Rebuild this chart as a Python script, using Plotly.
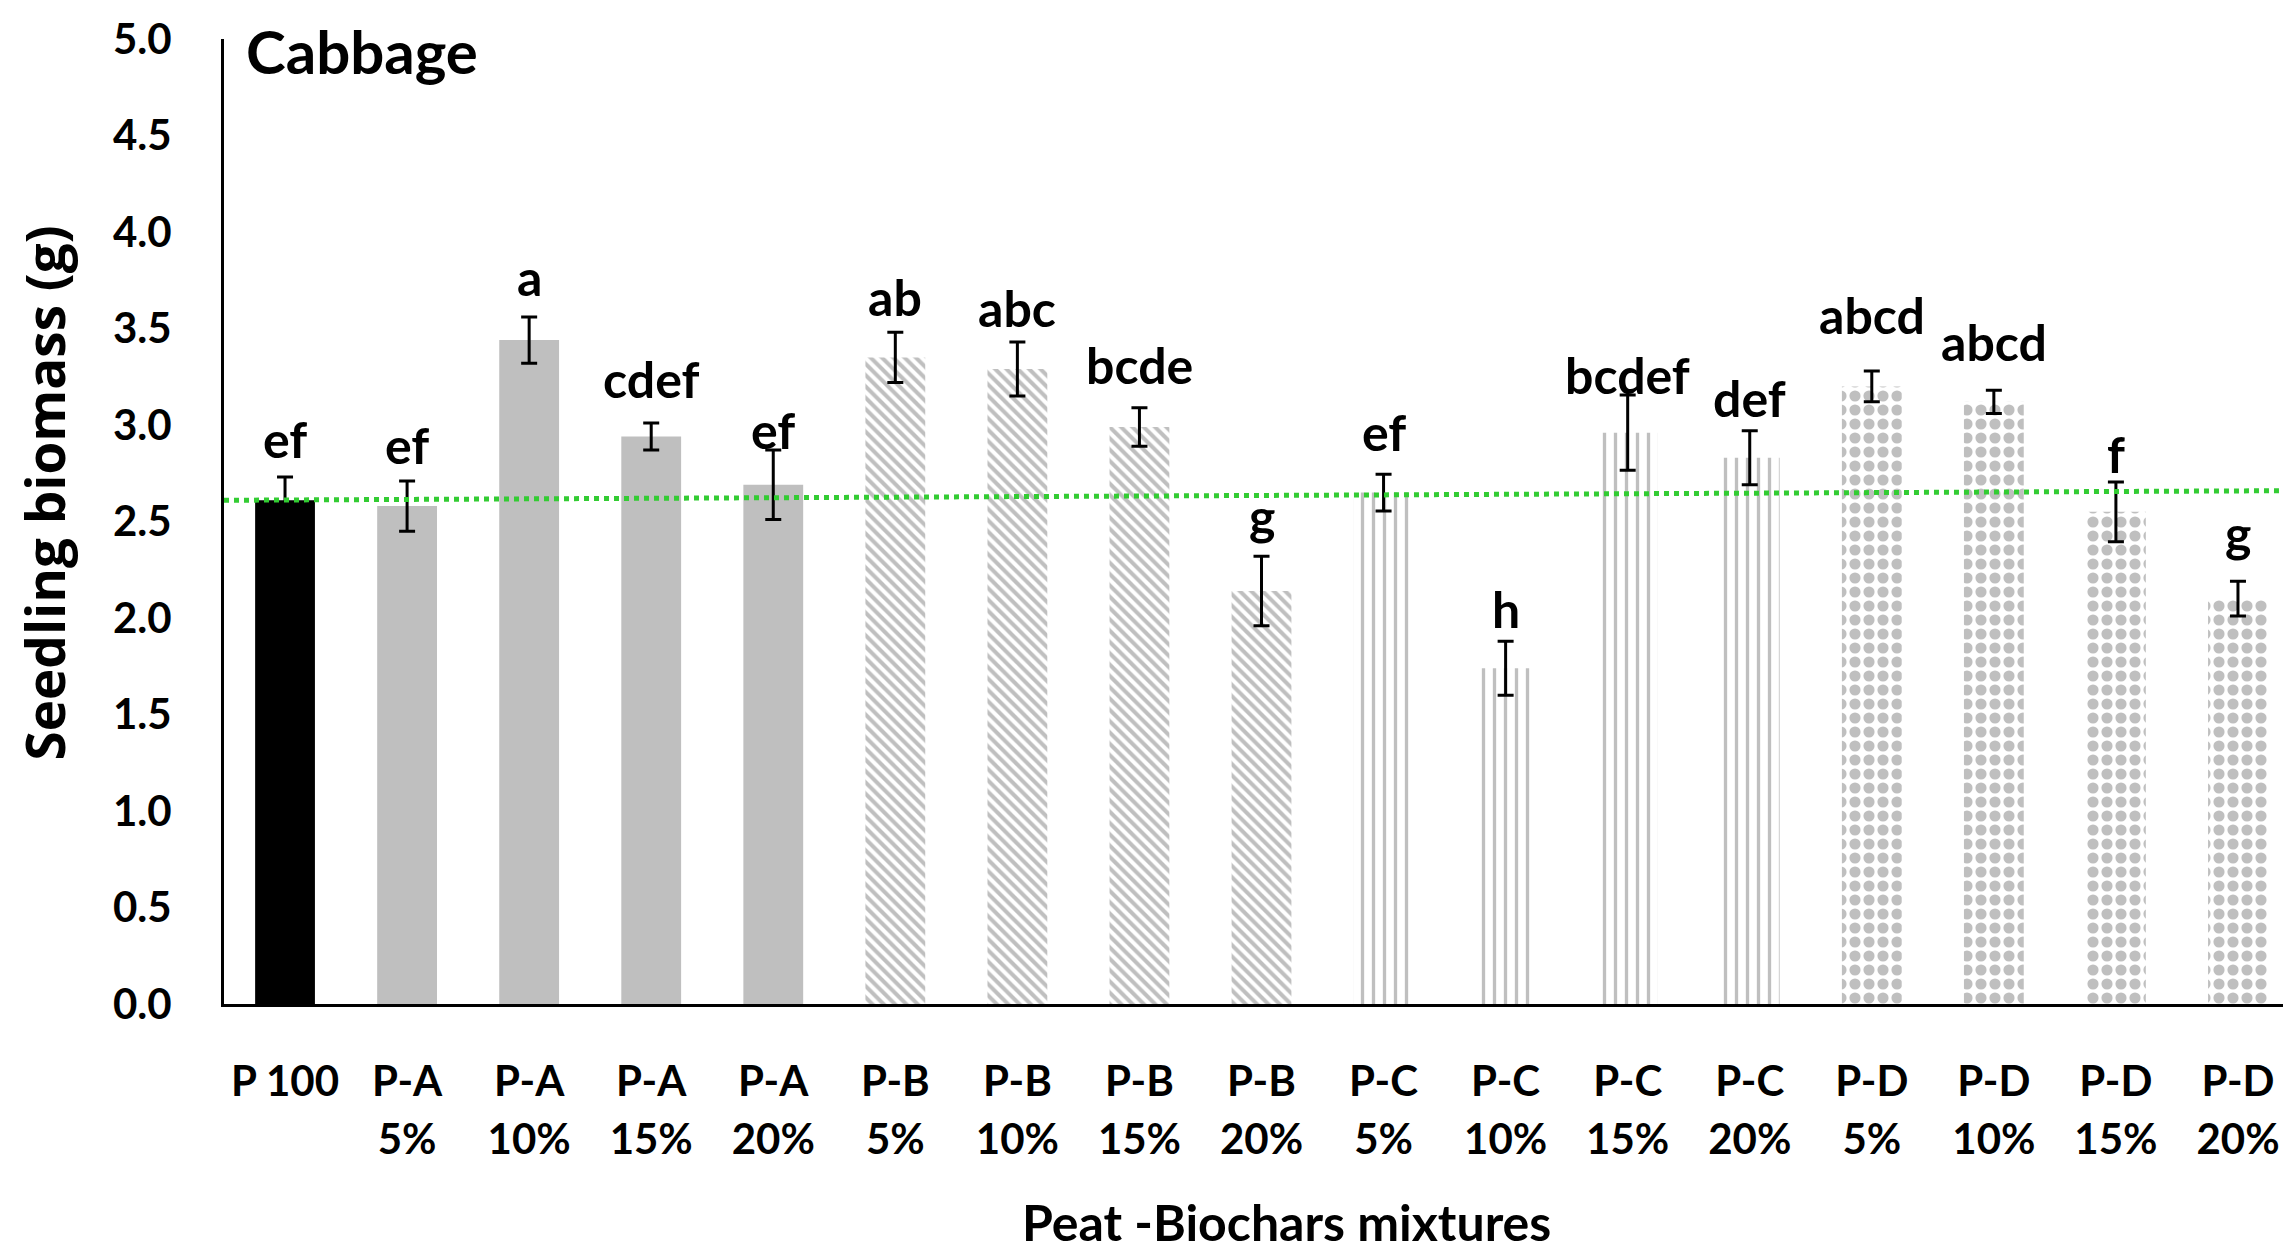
import plotly.graph_objects as go

# ---------------- data ----------------
categories = ["P 100", "P-A 5%", "P-A 10%", "P-A 15%", "P-A 20%",
              "P-B 5%", "P-B 10%", "P-B 15%", "P-B 20%",
              "P-C 5%", "P-C 10%", "P-C 15%", "P-C 20%",
              "P-D 5%", "P-D 10%", "P-D 15%", "P-D 20%"]
tick_line1 = ["P 100", "P-A", "P-A", "P-A", "P-A",
              "P-B", "P-B", "P-B", "P-B",
              "P-C", "P-C", "P-C", "P-C",
              "P-D", "P-D", "P-D", "P-D"]
tick_line2 = ["", "5%", "10%", "15%", "20%",
              "5%", "10%", "15%", "20%",
              "5%", "10%", "15%", "20%",
              "5%", "10%", "15%", "20%"]
groups = ["P", "A", "A", "A", "A", "B", "B", "B", "B",
          "C", "C", "C", "C", "D", "D", "D", "D"]
biomass = [2.61, 2.58, 3.44, 2.94, 2.69,
           3.35, 3.29, 2.99, 2.14,
           2.65, 1.74, 2.96, 2.83,
           3.20, 3.12, 2.55, 2.10]
std_err = [0.12, 0.13, 0.12, 0.07, 0.18,
           0.13, 0.14, 0.10, 0.18,
           0.095, 0.14, 0.195, 0.14,
           0.08, 0.06, 0.155, 0.09]
letters = ["ef", "ef", "a", "cdef", "ef",
           "ab", "abc", "bcde", "g",
           "ef", "h", "bcdef", "def",
           "abcd", "abcd", "f", "g"]
letter_base = [2.82, 2.79, 3.66, 3.13, 2.865,
               3.555, 3.50, 3.20, 2.42,
               2.855, 1.94, 3.15, 3.03,
               3.46, 3.32, 2.74, 2.33]
ref_line = [2.61, 2.66]
y_ticks = [0.0, 0.5, 1.0, 1.5, 2.0, 2.5, 3.0, 3.5, 4.0, 4.5, 5.0]

# ---------------- styles ----------------
FONT = "Lato"
GRAY = "#BFBFBF"
group_style = {
    "P": dict(color="#000000", pattern=dict(shape="")),
    "A": dict(color=GRAY, pattern=dict(shape="")),
    "B": dict(color="#FFFFFF", pattern=dict(shape="\\", fgcolor=GRAY, bgcolor="#FFFFFF",
                                            size=8, solidity=0.5, fillmode="replace")),
    "C": dict(color="#FFFFFF", pattern=dict(shape="|", fgcolor=GRAY, bgcolor="#FFFFFF",
                                            size=11, solidity=0.3, fillmode="replace")),
    "D": dict(color="#FFFFFF", pattern=dict(shape=".", fgcolor=GRAY, bgcolor="#FFFFFF",
                                            size=14, solidity=0.5, fillmode="replace")),
}

fig = go.Figure()
for g in ["P", "A", "B", "C", "D"]:
    idx = [i for i, gg in enumerate(groups) if gg == g]
    st = group_style[g]
    fig.add_trace(go.Bar(
        x=[categories[i] for i in idx],
        y=[biomass[i] for i in idx],
        width=0.49,
        marker=dict(color=st["color"], pattern=st["pattern"], line=dict(width=0)),
        error_y=dict(type="data", array=[std_err[i] for i in idx], visible=True,
                     color="#000000", thickness=3, width=8),
        showlegend=False, hoverinfo="x+y",
    ))

# invisible trace carrying the second line of tick labels
fig.add_trace(go.Scatter(x=categories, y=biomass, xaxis="x2", mode="markers",
                         marker=dict(opacity=0), showlegend=False, hoverinfo="skip"))

# reference line (control mean)
fig.add_shape(type="line", xref="paper", x0=0, x1=1, yref="y",
              y0=ref_line[0], y1=ref_line[1],
              line=dict(color="#33CC33", width=5, dash="5px,5px"), layer="above")

# significance letters
for c, lab, yb in zip(categories, letters, letter_base):
    fig.add_annotation(x=c, y=yb, text=lab, showarrow=False, yanchor="bottom",
                       yshift=-11, font=dict(family=FONT, size=50, color="#000000", weight=700))

# panel title
fig.add_annotation(xref="paper", yref="paper", x=0.0094, y=1.027, xanchor="left", yanchor="top",
                   text="Cabbage", showarrow=False,
                   font=dict(family=FONT, size=60, color="#000000", weight=700))
# y-axis title
fig.add_annotation(xref="paper", yref="paper", x=-0.0863, y=0.53, xanchor="center", yanchor="middle",
                   text="Seedling biomass (g)", textangle=-90, showarrow=False,
                   font=dict(family="Open Sans", size=53, color="#000000", weight=700))
# x-axis title
fig.add_annotation(xref="paper", yref="paper", x=0.512, y=-0.226, xanchor="center", yanchor="middle",
                   text="Peat -Biochars mixtures", showarrow=False,
                   font=dict(family=FONT, size=50, color="#000000", weight=700))

tick_font = dict(family=FONT, size=42, color="#000000", weight=700)
fig.update_layout(
    width=2291, height=1253,
    margin=dict(l=216, r=0, t=31, b=257),
    paper_bgcolor="#FFFFFF", plot_bgcolor="#FFFFFF",
    barmode="overlay",
    xaxis=dict(type="category", categoryorder="array", categoryarray=categories,
               range=[-0.5, len(categories) - 0.5],
               tickmode="array", tickvals=categories, ticktext=tick_line1,
               tickfont=tick_font, ticks="", ticklabelstandoff=39,
               showline=True, linecolor="#000000", linewidth=3,
               showgrid=False, zeroline=False),
    xaxis2=dict(type="category", categoryorder="array", categoryarray=categories,
                overlaying="x", matches="x", side="bottom",
                range=[-0.5, len(categories) - 0.5],
                tickmode="array", tickvals=categories, ticktext=tick_line2,
                tickfont=tick_font, ticks="", ticklabelstandoff=107,
                showline=False, showgrid=False, zeroline=False),
    yaxis=dict(range=[0, 5], tickmode="array", tickvals=y_ticks,
               ticktext=[f"{v:.1f}" for v in y_ticks],
               tickfont=tick_font, ticks="", ticklabelstandoff=41,
               showline=True, linecolor="#000000", linewidth=3,
               showgrid=False, zeroline=False),
)

fig.write_html("out.html")
